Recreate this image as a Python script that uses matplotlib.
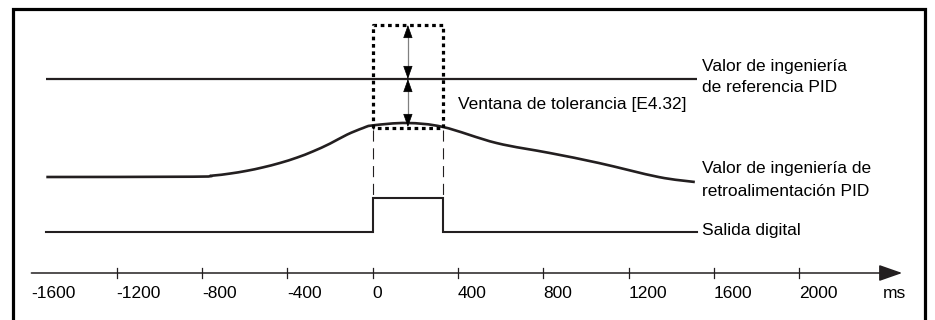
import numpy as np
import matplotlib
matplotlib.use("Agg")
import matplotlib.pyplot as plt
from matplotlib.path import Path
from matplotlib.patches import PathPatch

plt.rcParams['font.family'] = ['Liberation Sans', 'DejaVu Sans']

# data (time in ms, level in arbitrary units above the time axis)
tick_ms = [-1200, -800, -400, 0, 400, 800, 1200, 1600, 2000]
tick_labels = ['-1600', '-1200', '-800', '-400', '0', '400', '800', '1200', '1600', '2000']
label_ms = [-1600] + tick_ms

fb_t = [-1530, -843, -750, -670, -590, -515, -435, -355, -280, -200, -120, -45, 0,
        160, 330, 580, 830, 1060, 1340, 1510]
fb_y = [96, 96.3, 97.4, 99.4, 102.2, 105.6, 110, 115.4, 121.6, 129.4, 138.4, 145, 147.6,
        150, 146, 130, 120, 110, 96, 91]

ref_t = [-1530, 1520]
ref_y = [194, 194]

dig_t = [-1530, 0, 0, 330, 330, 1520]
dig_y = [41, 41, 75, 75, 41, 41]

win_t = [0, 330]          # tolerance window edges
win_top = 248
win_bottom = 145
arrow_t = 165

ink = '#231f20'


def smooth_path(xs, ys):
    # catmull-rom through the points, as cubic bezier segments
    p = np.column_stack([xs, ys]).astype(float)
    verts = [p[0]]
    codes = [Path.MOVETO]
    for i in range(len(p) - 1):
        p0 = p[i - 1] if i > 0 else p[i]
        p3 = p[i + 2] if i + 2 < len(p) else p[i + 1]
        c1 = p[i] + (p[i + 1] - p0) / 6
        c2 = p[i + 1] - (p3 - p[i]) / 6
        verts += [c1, c2, p[i + 1]]
        codes += [Path.CURVE4] * 3
    return Path(verts, codes)


fig = plt.figure(figsize=(9.35, 3.2), dpi=100)
ax = fig.add_axes([0, 0, 1, 1])
# 0 ms at x=372.7 px, 400 ms per 85.3 px; level 0 at y=273 px
ax.set_xlim(-372.7 / 0.21333, (935 - 372.7) / 0.21333)
ax.set_ylim(273 - 320, 273)
ax.axis('off')

# frame (open at the bottom, cut by the image)
ax.plot([-1686, -1686, 2590, 2590], [-80, 264, 264, -80], color='black', lw=2.3,
        solid_joinstyle='miter', clip_on=False)

# time axis
ax.annotate('', xy=(2482, 0), xytext=(-1600, 0),
            arrowprops=dict(arrowstyle='-|>,head_length=0.8,head_width=0.28',
                            mutation_scale=18, lw=1.1, color=ink,
                            shrinkA=0, shrinkB=0))
for t in tick_ms:
    ax.plot([t, t], [-5, 5], color=ink, lw=0.9)
for t, lab in zip(label_ms, tick_labels):
    ax.text(t, -20, lab, ha='left', va='center', fontsize=12.5, color='black')
ax.text(2392, -20, 'ms', ha='left', va='center', fontsize=12.5, color='black')

# signals
ax.plot(ref_t, ref_y, color=ink, lw=1.6, solid_capstyle='butt')
ax.add_patch(PathPatch(smooth_path(fb_t, fb_y), fill=False, edgecolor=ink, lw=1.9))
ax.plot(dig_t, dig_y, color=ink, lw=1.5, solid_joinstyle='miter')

# tolerance window
ax.plot([win_t[0], win_t[0], win_t[1], win_t[1], win_t[0]],
        [win_bottom, win_top, win_top, win_bottom, win_bottom],
        color='black', lw=2.3, linestyle=(0, (1.15, 1.15)), dash_capstyle='butt')
for t in win_t:
    ax.plot([t, t], [143, 75], color=ink, lw=0.8, linestyle=(0, (10, 6)))

# double arrows
for a, b in [(win_top, ref_y[0]), (ref_y[0], 146)]:
    ax.plot([arrow_t, arrow_t], [a - 4, b + 4], color='#808080', lw=0.9)
    ax.annotate('', xy=(arrow_t, a), xytext=(arrow_t, a - 8),
                arrowprops=dict(arrowstyle='-|>,head_length=0.7,head_width=0.25',
                                mutation_scale=12, lw=0.5, color='black',
                                shrinkA=0, shrinkB=0))
    ax.annotate('', xy=(arrow_t, b), xytext=(arrow_t, b + 8),
                arrowprops=dict(arrowstyle='-|>,head_length=0.7,head_width=0.25',
                                mutation_scale=12, lw=0.5, color='black',
                                shrinkA=0, shrinkB=0))

# labels
fs = 12.5
ax.text(1544, 206, 'Valor de ingeniería', ha='left', va='center', fontsize=fs)
ax.text(1544, 185, 'de referencia PID', ha='left', va='center', fontsize=fs)
ax.text(1544, 104, 'Valor de ingeniería de', ha='left', va='center', fontsize=fs)
ax.text(1544, 82, 'retroalimentación PID', ha='left', va='center', fontsize=fs)
ax.text(1544, 43, 'Salida digital', ha='left', va='center', fontsize=fs)
ax.text(401, 168, 'Ventana de tolerancia [E4.32]', ha='left', va='center', fontsize=fs)

fig.savefig('out.png', dpi=100, facecolor='white')
